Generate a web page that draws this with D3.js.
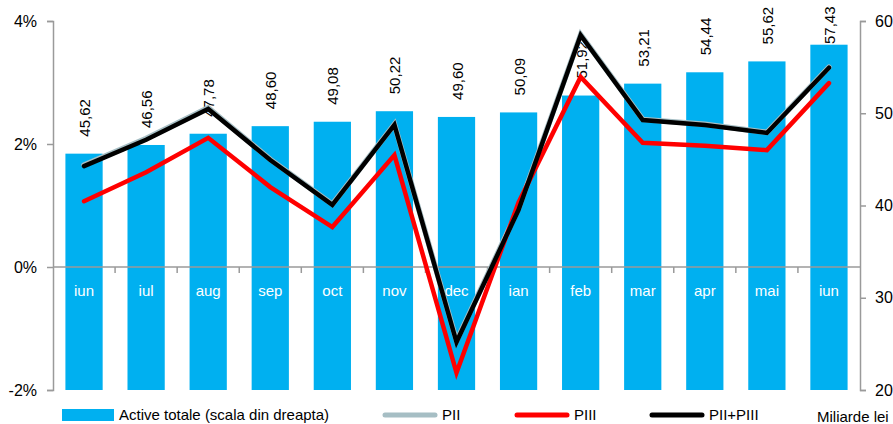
<!DOCTYPE html>
<html>
<head>
<meta charset="utf-8">
<script src="https://cdn.jsdelivr.net/npm/d3@7"></script>
<style>
body { margin: 0; background: #fff; }
text { font-family: "Liberation Sans", Arial, sans-serif; }
</style>
</head>
<body>
<svg id="chart" width="893" height="424"></svg>
<script>
var months = ['iun', 'iul', 'aug', 'sep', 'oct', 'nov', 'dec', 'ian', 'feb', 'mar', 'apr', 'mai', 'iun'];
var active = [45.62, 46.56, 47.78, 48.60, 49.08, 50.22, 49.60, 50.09, 51.92, 53.21, 54.44, 55.62, 57.43];
var pii = [1.66, 2.09, 2.59, 1.75, 1.02, 2.32, -1.20, 0.95, 3.78, 2.40, 2.32, 2.19, 3.25];
var piii = [1.07, 1.54, 2.10, 1.30, 0.65, 1.82, -1.72, 1.05, 3.09, 2.02, 1.97, 1.90, 2.99];
var piiPiii = [1.64, 2.07, 2.57, 1.74, 1.01, 2.31, -1.22, 0.93, 3.77, 2.39, 2.31, 2.18, 3.24];
var leftTicks = [-2, 0, 2, 4];
var rightTicks = [20, 30, 40, 50, 60];

var svg = d3.select('#chart'),
	plotL = 53, plotR = 860, plotT = 21, plotB = 390,
	axisColor = '#9a9a9a',
	blue = '#00b0f0';

var idx = d3.range(months.length);
var x = d3.scaleBand().domain(idx).range([plotL, plotR]).paddingInner(0.4).paddingOuter(0.2);
var yL = d3.scaleLinear().domain([-2, 4]).range([plotB, plotT]);
var yR = d3.scaleLinear().domain([20, 60]).range([plotB, plotT]);
var cx = function (i) { return x(i) + x.bandwidth() / 2; };

// bars (right scale)
svg.append('g').selectAll('rect').data(active).enter().append('rect')
	.attr('x', function (d, i) { return x(i); })
	.attr('width', x.bandwidth())
	.attr('y', function (d) { return yR(d); })
	.attr('height', function (d) { return yR(20) - yR(d); })
	.attr('fill', blue);

// value labels, rotated
svg.append('g').selectAll('text').data(active).enter().append('text')
	.attr('transform', function (d, i) {
		var b = Math.max(yR(d) - 17, 44);
		return 'translate(' + (cx(i) + 6) + ',' + b + ') rotate(-90)';
	})
	.attr('font-size', 15)
	.attr('fill', '#000')
	.text(function (d) { return d.toFixed(2).replace('.', ','); });

// zero line with tick marks between categories
var g0 = svg.append('g').attr('transform', 'translate(0,' + yL(0) + ')');
g0.append('line').attr('x1', plotL).attr('x2', plotR).attr('stroke', axisColor).attr('stroke-width', 1.5);
g0.selectAll('line.tk').data(idx.slice(1)).enter().append('line').attr('class', 'tk')
	.attr('x1', function (i) { return x(i) - x.step() * x.paddingInner() / 2; })
	.attr('x2', function (i) { return x(i) - x.step() * x.paddingInner() / 2; })
	.attr('y1', 0).attr('y2', 6)
	.attr('stroke', axisColor).attr('stroke-width', 1.5);

// category labels inside bars
svg.append('g').selectAll('text').data(months).enter().append('text')
	.attr('x', function (d, i) { return cx(i); })
	.attr('y', yL(0) + 29)
	.attr('text-anchor', 'middle')
	.attr('font-size', 15)
	.attr('fill', '#fff')
	.text(function (d) { return d; });

// axes
var axL = svg.append('g').attr('transform', 'translate(' + plotL + ',0)')
	.call(d3.axisLeft(yL).tickValues(leftTicks).tickSizeOuter(0).tickSize(6).tickPadding(10)
		.tickFormat(function (d) { return d + '%'; }));
var axR = svg.append('g').attr('transform', 'translate(' + plotR + ',0)')
	.call(d3.axisRight(yR).tickValues(rightTicks).tickSizeOuter(0).tickSize(6).tickPadding(9));
[axL, axR].forEach(function (a) {
	a.selectAll('path, line').attr('stroke', axisColor).attr('stroke-width', 1.5);
	a.selectAll('text').attr('font-size', 16).attr('fill', '#000')
		.style('font-family', '"Liberation Sans", Arial, sans-serif');
});

// lines
var line = d3.line().x(function (d, i) { return cx(i); }).y(function (d) { return yL(d); });
var series = [
	{ data: pii, color: '#a6bec4', width: 5.5 },
	{ data: piii, color: '#ff0000', width: 4.5 },
	{ data: piiPiii, color: '#000000', width: 4.5 }
];
svg.append('g').selectAll('path').data(series).enter().append('path')
	.attr('d', function (s) { return line(s.data); })
	.attr('fill', 'none')
	.attr('stroke', function (s) { return s.color; })
	.attr('stroke-width', function (s) { return s.width; })
	.attr('stroke-linejoin', 'miter')
	.attr('stroke-linecap', 'round');

// legend
var lg = svg.append('g');
lg.append('rect').attr('x', 62).attr('y', 409).attr('width', 52).attr('height', 12).attr('fill', blue);
lg.append('text').attr('x', 119).attr('y', 420).attr('font-size', 15).text('Active totale (scala din dreapta)');
var legLines = [
	{ x: 385, color: '#a6bec4', label: 'PII' },
	{ x: 517, color: '#ff0000', label: 'PIII' },
	{ x: 652, color: '#000000', label: 'PII+PIII' }
];
legLines.forEach(function (l) {
	lg.append('line').attr('x1', l.x).attr('x2', l.x + 50).attr('y1', 415).attr('y2', 415)
		.attr('stroke', l.color).attr('stroke-width', 5).attr('stroke-linecap', 'round');
	lg.append('text').attr('x', l.x + 57).attr('y', 420).attr('font-size', 15).text(l.label);
});
lg.append('text').attr('x', 817).attr('y', 422).attr('font-size', 15).text('Miliarde lei');
</script>
</body>
</html>
